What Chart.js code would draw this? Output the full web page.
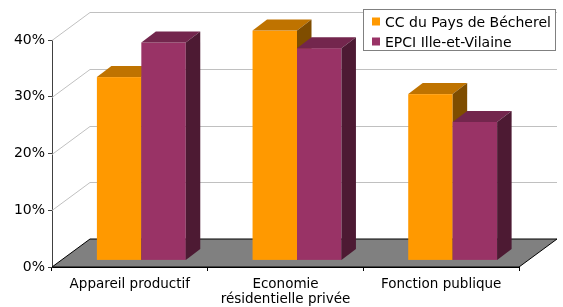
<!DOCTYPE html>
<html>
<head>
<meta charset="utf-8">
<script src="https://cdn.jsdelivr.net/npm/chart.js@4/dist/chart.umd.min.js"></script>
<style>
  body { margin: 0; background: #fff; }
  canvas { display: block; }
</style>
</head>
<body>
<canvas id="chart" width="563" height="307"></canvas>
<script>
const categories = ['Appareil productif', ['Economie', 'résidentielle privée'], 'Fonction publique'];
const seriesNames = ['CC du Pays de Bécherel', 'EPCI Ille-et-Vilaine'];
const ccValues = [32.3, 40.5, 29.3];
const epciValues = [38.4, 37.4, 24.4];
const yMax = 40;
const yStep = 10;

// colours: front, top, side
const faceColors = [
  ['#FF9900', '#BF7300', '#7F4D00'],
  ['#993366', '#73264D', '#4D1A33']
];

const wall = { dx: 38, dy: -28 };
const barShift = { dx: 11.5, dy: -6.6 };
const barDepth = { dx: 14.5, dy: -11 };
const font = 'DejaVu Sans';

const fake3d = {
  id: 'fake3d',
  beforeDatasetsDraw(chart) {
    const ctx = chart.ctx;
    const area = chart.chartArea;
    const y = chart.scales.y;
    ctx.save();
    ctx.strokeStyle = '#c0c0c0';
    ctx.lineWidth = 1;
    y.ticks.forEach(t => {
      if (t.value <= 0) return;
      const py = Math.round(y.getPixelForValue(t.value)) + 0.5;
      ctx.beginPath();
      ctx.moveTo(area.left, py);
      ctx.lineTo(area.left + wall.dx, py + wall.dy);
      ctx.lineTo(area.right + wall.dx, py + wall.dy);
      ctx.stroke();
    });
    // floor
    const p0 = y.getPixelForValue(0);
    ctx.beginPath();
    ctx.moveTo(area.left, p0);
    ctx.lineTo(area.right, p0);
    ctx.lineTo(area.right + wall.dx, p0 + wall.dy);
    ctx.lineTo(area.left + wall.dx, p0 + wall.dy);
    ctx.closePath();
    ctx.fillStyle = '#808080';
    ctx.fill();
    ctx.strokeStyle = '#000';
    ctx.stroke();
    ctx.restore();
  },
  afterDatasetsDraw(chart) {
    const ctx = chart.ctx;
    ctx.save();
    const n = chart.data.labels.length;
    for (let i = 0; i < n; i++) {
      chart.data.datasets.forEach((ds, d) => {
        const bar = chart.getDatasetMeta(d).data[i];
        const c = faceColors[d];
        const x0 = bar.x - bar.width / 2 + barShift.dx;
        const x1 = bar.x + bar.width / 2 + barShift.dx;
        const yt = bar.y + barShift.dy;
        const yb = bar.base + barShift.dy;
        ctx.fillStyle = c[0];
        ctx.fillRect(x0, yt, x1 - x0, yb - yt);
        ctx.fillStyle = c[1];
        ctx.beginPath();
        ctx.moveTo(x0, yt);
        ctx.lineTo(x1, yt);
        ctx.lineTo(x1 + barDepth.dx, yt + barDepth.dy);
        ctx.lineTo(x0 + barDepth.dx, yt + barDepth.dy);
        ctx.closePath();
        ctx.fill();
        ctx.fillStyle = c[2];
        ctx.beginPath();
        ctx.moveTo(x1, yt);
        ctx.lineTo(x1 + barDepth.dx, yt + barDepth.dy);
        ctx.lineTo(x1 + barDepth.dx, yb + barDepth.dy);
        ctx.lineTo(x1, yb);
        ctx.closePath();
        ctx.fill();
      });
    }
    ctx.restore();
  },
  afterDraw(chart) {
    const ctx = chart.ctx;
    ctx.save();
    ctx.fillStyle = '#fff';
    ctx.fillRect(363.5, 9.5, 192, 41);
    ctx.strokeStyle = '#808080';
    ctx.lineWidth = 1;
    ctx.strokeRect(363.5, 9.5, 192, 41);
    ctx.font = '14px "' + font + '"';
    ctx.textBaseline = 'alphabetic';
    chart.data.datasets.forEach((ds, d) => {
      const top = 17.5 + d * 20;
      ctx.fillStyle = faceColors[d][0];
      ctx.fillRect(372, top, 8, 8);
      ctx.fillStyle = '#000';
      ctx.fillText(ds.label, 385, top + 9.3);
    });
    ctx.restore();
  }
};

new Chart(document.getElementById('chart'), {
  type: 'bar',
  data: {
    labels: categories,
    datasets: [
      { label: seriesNames[0], data: ccValues, backgroundColor: 'rgba(0,0,0,0)' },
      { label: seriesNames[1], data: epciValues, backgroundColor: 'rgba(0,0,0,0)' }
    ]
  },
  options: {
    responsive: false,
    animation: false,
    layout: { padding: { top: 40, right: 44, left: 0, bottom: 0 } },
    datasets: { bar: { categoryPercentage: 0.571, barPercentage: 1 } },
    plugins: { legend: { display: false }, tooltip: { enabled: false } },
    scales: {
      x: {
        afterFit(scale) { scale.height = 40; },
        grid: { drawOnChartArea: false, tickLength: 4, color: '#000' },
        border: { color: '#000' },
        ticks: { color: '#000', padding: 6, maxRotation: 0, font: { family: font, size: 13.5, lineHeight: 1.1 } }
      },
      y: {
        min: 0,
        max: yMax,
        afterFit(scale) { scale.width = 52; },
        grid: { drawOnChartArea: false, tickLength: 4, color: '#404040' },
        border: { color: '#404040' },
        ticks: {
          stepSize: yStep,
          color: '#000',
          padding: 3,
          font: { family: font, size: 14 },
          callback: v => v + '%'
        }
      }
    }
  },
  plugins: [fake3d]
});
</script>
</body>
</html>
